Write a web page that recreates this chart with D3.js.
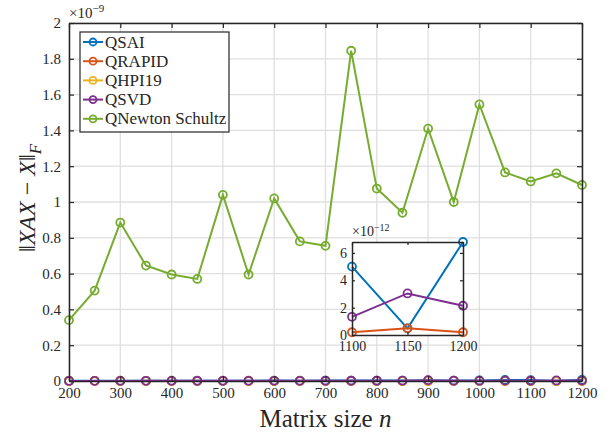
<!DOCTYPE html>
<html>
<head>
<meta charset="utf-8">
<script src="https://d3js.org/d3.v7.min.js"></script>
<style>
  body { margin: 0; background: #fff; }
  svg text { font-family: "Liberation Serif", serif; fill: #262626; }
</style>
</head>
<body>
<svg id="chart" width="606" height="434"></svg>
<script>
// matrix sizes n
var sizes = [200, 250, 300, 350, 400, 450, 500, 550, 600, 650, 700, 750, 800, 850, 900, 950, 1000, 1050, 1100, 1150, 1200];
// QNewton Schultz, units of 1e-9
var qNewton = [0.34, 0.505, 0.885, 0.645, 0.595, 0.57, 1.04, 0.595, 1.02, 0.78, 0.755, 1.845, 1.075, 0.94, 1.41, 1.0, 1.545, 1.165, 1.115, 1.16, 1.095];
// the other methods, units of 1e-12
var qsai   = [1.2, 0.9, 1.5, 1.1, 1.8, 1.4, 2.0, 1.6, 2.2, 1.9, 2.4, 2.1, 2.6, 2.3, 2.8, 2.5, 3.0, 5.6, 5.0, 0.49, 6.8];
var qrapid = [0.1, 0.1, 0.1, 0.15, 0.15, 0.15, 0.2, 0.2, 0.2, 0.2, 0.25, 0.25, 0.25, 0.3, 0.3, 0.3, 0.3, 0.35, 0.2, 0.49, 0.2];
var qhpi19 = [0.05, 0.05, 0.05, 0.05, 0.1, 0.1, 0.1, 0.1, 0.1, 0.1, 0.1, 0.15, 0.15, 0.15, 0.2, 0.15, 0.15, 0.15, 0.1, 0.1, 0.1];
var qsvd   = [0.5, 0.6, 0.7, 0.8, 0.8, 0.9, 1.0, 1.1, 1.2, 1.2, 1.3, 1.4, 1.5, 1.6, 4.5, 1.7, 1.8, 2.0, 1.33, 3.04, 2.14];

var names  = ["QSAI", "QRAPID", "QHPI19", "QSVD", "QNewton Schultz"];
var colors = ["#0072BD", "#D95319", "#EDB120", "#7E2F8E", "#77AC30"];

var xTicks = [200, 300, 400, 500, 600, 700, 800, 900, 1000, 1100, 1200];
var yTicks = [0, 0.2, 0.4, 0.6, 0.8, 1, 1.2, 1.4, 1.6, 1.8, 2];
var insetSizes = [1100, 1150, 1200];
var insetYTicks = [0, 2, 4, 6];

var svg = d3.select("#chart");
var axisColor = "#262626";
var gridColor = "#dfdfdf";

var pL = 69, pR = 582, pT = 23, pB = 381;
var x = d3.scaleLinear().domain([200, 1200]).range([pL, pR]);
var y = d3.scaleLinear().domain([0, 2]).range([pB, pT]);

// grid
var grid = svg.append("g");
grid.selectAll(".gx").data(xTicks).enter().append("line")
    .attr("x1", d => x(d)).attr("x2", d => x(d))
    .attr("y1", pT).attr("y2", pB)
    .attr("stroke", gridColor).attr("stroke-width", 1.3);
grid.selectAll(".gy").data(yTicks).enter().append("line")
    .attr("y1", d => y(d)).attr("y2", d => y(d))
    .attr("x1", pL).attr("x2", pR)
    .attr("stroke", gridColor).attr("stroke-width", 1.3);

// series
var series = [qsai, qrapid, qhpi19, qsvd].map(a => a.map(v => v * 1e-3));
series.push(qNewton);

var line = d3.line().x((d, i) => x(sizes[i])).y(d => y(d));
series.forEach(function(s, k) {
    var g = svg.append("g");
    g.append("path").datum(s).attr("d", line)
        .attr("fill", "none").attr("stroke", colors[k]).attr("stroke-width", 2);
    g.selectAll("circle").data(s).enter().append("circle")
        .attr("cx", (d, i) => x(sizes[i])).attr("cy", d => y(d)).attr("r", 4)
        .attr("fill", "none").attr("stroke", colors[k]).attr("stroke-width", 1.8);
});

// axes (box with inward ticks)
function styleAxis(g) {
    g.selectAll("path").attr("stroke", axisColor).attr("stroke-width", 1.5);
    g.selectAll("line").attr("stroke", axisColor).attr("stroke-width", 1.2);
    g.selectAll("text").attr("font-size", 15).attr("fill", axisColor);
}
var fmt = d3.format("~g");
svg.append("g").attr("transform", "translate(0," + pB + ")")
    .call(d3.axisBottom(x).tickValues(xTicks).tickSizeInner(-5).tickSizeOuter(0).tickPadding(6).tickFormat(fmt))
    .call(styleAxis);
svg.append("g").attr("transform", "translate(0," + pT + ")")
    .call(d3.axisTop(x).tickValues(xTicks).tickSizeInner(-5).tickSizeOuter(0).tickFormat(""))
    .call(styleAxis);
svg.append("g").attr("transform", "translate(" + pL + ",0)")
    .call(d3.axisLeft(y).tickValues(yTicks).tickSizeInner(-5).tickSizeOuter(0).tickPadding(8).tickFormat(fmt))
    .call(styleAxis);
svg.append("g").attr("transform", "translate(" + pR + ",0)")
    .call(d3.axisRight(y).tickValues(yTicks).tickSizeInner(-5).tickSizeOuter(0).tickFormat(""))
    .call(styleAxis);

// exponent label
var ex = svg.append("text").attr("x", pL).attr("y", 18).attr("font-size", 15);
ex.append("tspan").text("\u00d710");
ex.append("tspan").attr("dy", -6).attr("font-size", 11).text("\u22129");

// axis labels
var xl = svg.append("text").attr("x", (pL + pR) / 2).attr("y", 427)
    .attr("text-anchor", "middle").attr("font-size", 25);
xl.append("tspan").text("Matrix size ");
xl.append("tspan").attr("font-style", "italic").text("n");

var yl = svg.append("text").attr("transform", "translate(35,198) rotate(-90)")
    .attr("text-anchor", "middle").attr("font-size", 24);
yl.append("tspan").text("\u2016");
yl.append("tspan").attr("font-style", "italic").text("XAX");
yl.append("tspan").text(" \u2212 ");
yl.append("tspan").attr("font-style", "italic").text("X");
yl.append("tspan").text("\u2016");
yl.append("tspan").attr("font-style", "italic").attr("font-size", 17).attr("dy", 6).text("F");

// legend
var lg = svg.append("g");
lg.append("rect").attr("x", 80).attr("y", 32).attr("width", 149).attr("height", 100)
    .attr("fill", "#fff").attr("stroke", axisColor).attr("stroke-width", 1.2);
names.forEach(function(n, k) {
    var yy = 42 + k * 19.2;
    lg.append("line").attr("x1", 83).attr("x2", 103).attr("y1", yy).attr("y2", yy)
        .attr("stroke", colors[k]).attr("stroke-width", 2);
    lg.append("circle").attr("cx", 93).attr("cy", yy).attr("r", 3.5)
        .attr("fill", "none").attr("stroke", colors[k]).attr("stroke-width", 1.8);
    lg.append("text").attr("x", 105).attr("y", yy + 5.5).attr("font-size", 17).text(n);
});

// inset
var iL = 352, iR = 463, iT = 242, iB = 335;
var ix = d3.scaleLinear().domain([1100, 1200]).range([iL, iR]);
var iy = d3.scaleLinear().domain([0, 6.8]).range([iB, iT]);
svg.append("rect").attr("x", iL).attr("y", iT).attr("width", iR - iL).attr("height", iB - iT)
    .attr("fill", "#fff");
var insetSeries = [qsai, qrapid, qsvd].map(a => a.slice(18));
var insetColors = [colors[0], colors[1], colors[3]];
var iline = d3.line().x((d, i) => ix(insetSizes[i])).y(d => iy(d));
insetSeries.forEach(function(s, k) {
    var g = svg.append("g");
    g.append("path").datum(s).attr("d", iline)
        .attr("fill", "none").attr("stroke", insetColors[k]).attr("stroke-width", 2);
    g.selectAll("circle").data(s).enter().append("circle")
        .attr("cx", (d, i) => ix(insetSizes[i])).attr("cy", d => iy(d)).attr("r", 4)
        .attr("fill", "none").attr("stroke", insetColors[k]).attr("stroke-width", 1.8);
});
function styleInset(g) {
    g.selectAll("path").attr("stroke", axisColor).attr("stroke-width", 1.5);
    g.selectAll("line").attr("stroke", axisColor).attr("stroke-width", 1.2);
    g.selectAll("text").attr("font-size", 14).attr("fill", axisColor);
}
svg.append("g").attr("transform", "translate(0," + iB + ")")
    .call(d3.axisBottom(ix).tickValues(insetSizes).tickSizeInner(-3).tickSizeOuter(0).tickPadding(6).tickFormat(fmt))
    .call(styleInset);
svg.append("g").attr("transform", "translate(0," + iT + ")")
    .call(d3.axisTop(ix).tickValues(insetSizes).tickSizeInner(-3).tickSizeOuter(0).tickFormat(""))
    .call(styleInset);
svg.append("g").attr("transform", "translate(" + iL + ",0)")
    .call(d3.axisLeft(iy).tickValues(insetYTicks).tickSizeInner(-3).tickSizeOuter(0).tickPadding(5).tickFormat(fmt))
    .call(styleInset);
svg.append("g").attr("transform", "translate(" + iR + ",0)")
    .call(d3.axisRight(iy).tickValues(insetYTicks).tickSizeInner(-3).tickSizeOuter(0).tickFormat(""))
    .call(styleInset);
var iex = svg.append("text").attr("x", iL).attr("y", 236).attr("font-size", 14);
iex.append("tspan").text("\u00d710");
iex.append("tspan").attr("dy", -5).attr("font-size", 10).text("\u221212");
</script>
</body>
</html>
